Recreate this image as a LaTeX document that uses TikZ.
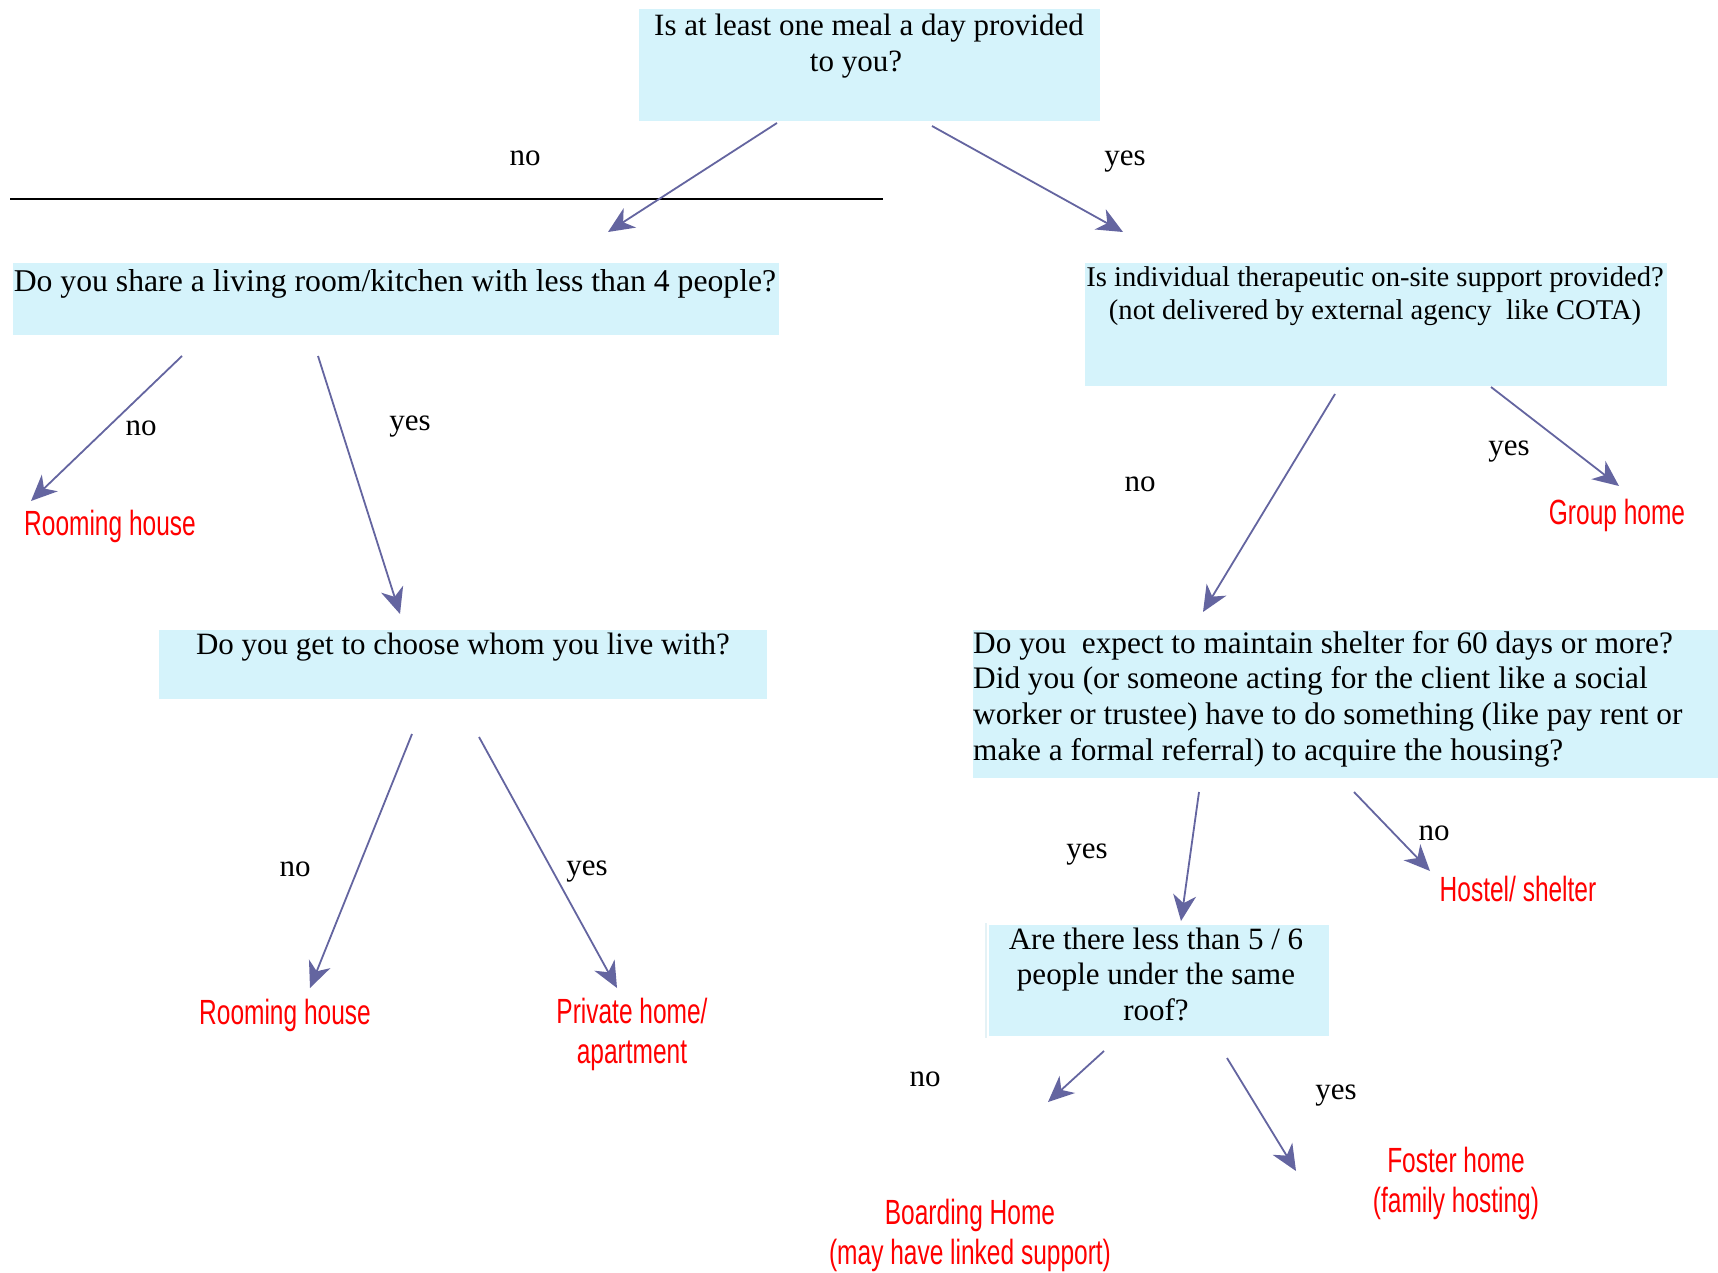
\documentclass[tikz,border=0pt]{standalone}
\usepackage{fontspec}
\setmainfont{Liberation Serif}
\newfontfamily\redfont[FakeStretch=0.7]{Liberation Sans}
\usetikzlibrary{arrows.meta}
\definecolor{boxfill}{HTML}{D5F3FB}
\definecolor{arrowcol}{HTML}{6465A0}
\definecolor{outred}{HTML}{FF0000}
\definecolor{faint}{HTML}{E4F2F6}
\begin{document}
\begin{tikzpicture}[x=1pt,y=-1pt,
  qbox/.style={fill=boxfill, draw=none, inner sep=0pt},
  qtext/.style={font=\fontsize{31}{35.5}\selectfont, align=center, inner sep=0pt},
  ans/.style={font=\redfont\fontsize{35}{40}\selectfont, text=outred, align=center, inner sep=0pt},
  lbl/.style={font=\fontsize{31}{35}\selectfont, inner sep=0pt, anchor=base},
  conn/.style={draw=arrowcol, line width=1.8pt, -{Stealth[length=26pt,width=23pt,inset=8pt]}}]
\useasboundingbox (0,0) rectangle (1718,1273);
\fill[white] (0,0) rectangle (1718,1273);

% question boxes
\node[qbox, minimum width=461pt, minimum height=112pt] (q1) at (869.5,65) {};
\node[qbox, minimum width=766pt, minimum height=72pt] (q2) at (396,299) {};
\node[qbox, minimum width=608pt, minimum height=69pt] (q3) at (463,664.5) {};
\node[qbox, minimum width=582pt, minimum height=123pt] (q4) at (1376,324.5) {};
\node[qbox, minimum width=745pt, minimum height=148pt] (q5) at (1345.5,704) {};
\node[qbox, minimum width=340pt, minimum height=111pt] (q6) at (1158.5,980.5) {};
\coordinate (f1) at (986,923);
\coordinate (f2) at (986,1038);
\draw[faint, line width=1.2pt] (f1) -- (f2);

% question texts
\node[qtext] (t1) at (869,46) {Is at least one meal a day provided\\to you?\hspace*{26pt}};
\node[qtext, font=\fontsize{31.7}{35.5}\selectfont] (t2) at (395,284) {Do you share a living room/kitchen with less than 4 people?};
\node[qtext] (t3) at (463,647) {Do you get to choose whom you live with?};
\node[qtext, font=\fontsize{28.6}{33}\selectfont] (t4) at (1375,296) {Is individual therapeutic on-site support provided?\\(not delivered by external agency\ \ like COTA)};
\node[qtext, align=left, anchor=west, font=\fontsize{31.3}{35.7}\selectfont] (t5) at (973,699) {Do you\ \ expect to maintain shelter for 60 days or more?\\Did you (or someone acting for the client like a social\\worker or trustee) have to do something (like pay rent or\\make a formal referral) to acquire the housing?};
\node[qtext] (t6) at (1156,974) {Are there less than 5 / 6\\people under the same\\roof?};

% separator line
\coordinate (hl1) at (10,199);
\coordinate (hl2) at (883,199);
\draw[black, line width=2pt] (hl1) -- (hl2);

% answers
\node[ans] (r1) at (110,526) {Rooming house};
\node[ans] (r2) at (285,1015) {Rooming house};
\node[ans] (r3) at (632,1034) {Private home/\\apartment};
\node[ans] (r4) at (1617,515) {Group home};
\node[ans] (r5) at (1518,889) {Hostel/ shelter};
\node[ans] (r6) at (970,1235) {Boarding Home\\(may have linked support)};
\node[ans] (r7) at (1456,1183) {Foster home\\(family hosting)};

% branch labels
\node[lbl] (l1) at (525,166) {no};
\node[lbl] (l2) at (1125,166) {yes};
\node[lbl] (l3) at (141,435) {no};
\node[lbl] (l4) at (410,430) {yes};
\node[lbl] (l5) at (295,876) {no};
\node[lbl] (l6) at (587,875) {yes};
\node[lbl] (l7) at (1140,491) {no};
\node[lbl] (l8) at (1509,455) {yes};
\node[lbl] (l9) at (1087,858) {yes};
\node[lbl] (l10) at (1434,840) {no};
\node[lbl] (l11) at (925,1086) {no};
\node[lbl] (l12) at (1336,1099) {yes};

% connector ends
\coordinate (a1s) at (777,123);  \coordinate (a1e) at (608,232);
\coordinate (a2s) at (932,126);  \coordinate (a2e) at (1123,232);
\coordinate (a3s) at (182,356);  \coordinate (a3e) at (31,501);
\coordinate (a4s) at (318,356);  \coordinate (a4e) at (400,614);
\coordinate (a5s) at (412,734);  \coordinate (a5e) at (310,988);
\coordinate (a6s) at (479,737);  \coordinate (a6e) at (617,988);
\coordinate (a7s) at (1335,394); \coordinate (a7e) at (1203,612);
\coordinate (a8s) at (1491,387); \coordinate (a8e) at (1619,486);
\coordinate (a9s) at (1199,792); \coordinate (a9e) at (1181,921);
\coordinate (a10s) at (1354,792); \coordinate (a10e) at (1430,871);
\coordinate (a11s) at (1104,1051); \coordinate (a11e) at (1048,1102);
\coordinate (a12s) at (1227,1058); \coordinate (a12e) at (1296,1171);

\draw[conn] (a1s) -- (a1e);
\draw[conn] (a2s) -- (a2e);
\draw[conn] (a3s) -- (a3e);
\draw[conn] (a4s) -- (a4e);
\draw[conn] (a5s) -- (a5e);
\draw[conn] (a6s) -- (a6e);
\draw[conn] (a7s) -- (a7e);
\draw[conn] (a8s) -- (a8e);
\draw[conn] (a9s) -- (a9e);
\draw[conn] (a10s) -- (a10e);
\draw[conn] (a11s) -- (a11e);
\draw[conn] (a12s) -- (a12e);
\end{tikzpicture}
\end{document}
